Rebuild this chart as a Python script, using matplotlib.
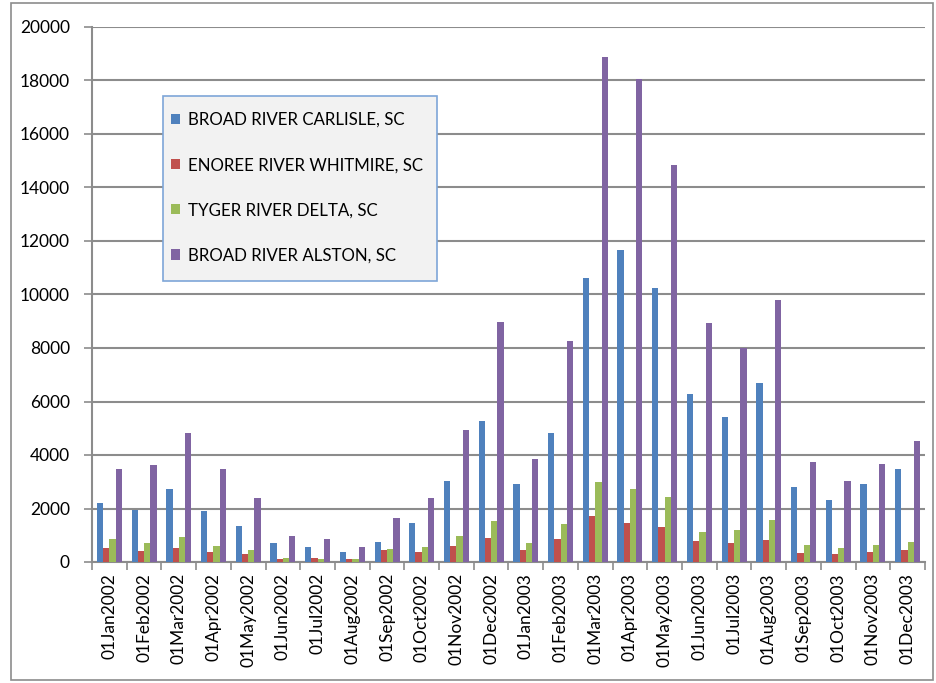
import matplotlib.pyplot as plt
import numpy as np
from matplotlib.patches import Rectangle

# Monthly values
months = ["01Jan2002", "01Feb2002", "01Mar2002", "01Apr2002", "01May2002", "01Jun2002",
          "01Jul2002", "01Aug2002", "01Sep2002", "01Oct2002", "01Nov2002", "01Dec2002",
          "01Jan2003", "01Feb2003", "01Mar2003", "01Apr2003", "01May2003", "01Jun2003",
          "01Jul2003", "01Aug2003", "01Sep2003", "01Oct2003", "01Nov2003", "01Dec2003"]

carlisle = [2200, 1940, 2740, 1900, 1360, 710, 550, 390, 740, 1445, 3040, 5260,
            2900, 4810, 10600, 11660, 10230, 6290, 5410, 6690, 2790, 2320, 2900, 3465]
whitmire = [510, 400, 510, 360, 300, 110, 140, 110, 450, 360, 610, 910,
            450, 850, 1710, 1460, 1310, 770, 710, 820, 340, 310, 370, 440]
tyger = [860, 700, 935, 600, 440, 150, 110, 100, 490, 560, 985, 1530,
         700, 1430, 2980, 2730, 2420, 1135, 1195, 1560, 620, 520, 640, 750]
alston = [3480, 3640, 4820, 3480, 2380, 985, 860, 560, 1645, 2380, 4935, 8970,
          3840, 8260, 18890, 18060, 14840, 8920, 8010, 9790, 3725, 3015, 3650, 4525]

series = [("BROAD RIVER CARLISLE, SC", carlisle, "#4f81bd"),
          ("ENOREE RIVER WHITMIRE, SC", whitmire, "#c0504d"),
          ("TYGER RIVER DELTA, SC", tyger, "#9bbb59"),
          ("BROAD RIVER ALSTON, SC", alston, "#8064a2")]

plt.rcParams['font.family'] = ['Lato', 'DejaVu Sans']
W, H = 936, 683

fig = plt.figure(figsize=(9.36, 6.83), dpi=100)
ax = fig.add_axes([92 / W, 1 - 562 / H, 833 / W, 535 / H])

x = np.arange(len(months))
w = 0.18
for i, (name, vals, col) in enumerate(series):
    ax.bar(x + (i - 1.5) * w, vals, width=w, color=col, label=name, zorder=3)

ax.set_xlim(-0.5, len(months) - 0.5)
ax.set_ylim(0, 20000)
ax.set_yticks(np.arange(0, 20001, 2000))
ax.yaxis.grid(True, color="#8c8c8c", linewidth=1.5, zorder=0)

ax.set_xticks(x)
ax.set_xticklabels(months, rotation=90, fontsize=12.5)
ax.set_xticks(np.arange(-0.5, len(months)), minor=True)
ax.tick_params(axis="x", which="major", length=0, pad=8)
ax.tick_params(axis="x", which="minor", length=6, color="#8c8c8c", width=1.2)
ax.tick_params(axis="y", labelsize=12.5, length=6, color="#8c8c8c", width=1.2, pad=10)

for s in ["top", "right"]:
    ax.spines[s].set_visible(False)
for s in ["left", "bottom"]:
    ax.spines[s].set_color("#8c8c8c")
    ax.spines[s].set_linewidth(1.5)

# legend box drawn by hand so it can sit exactly where the reference has it
ax.add_patch(Rectangle((163 / W, 1 - 281 / H), 274 / W, 185 / H,
                       transform=fig.transFigure, facecolor="#f2f2f2",
                       edgecolor="#7ea6d8", linewidth=1.2, zorder=4, clip_on=False))
leg = ax.legend(loc="upper left", bbox_to_anchor=(171 / W, 1 - 112 / H),
                bbox_transform=fig.transFigure, fontsize=12.2, frameon=False,
                handlelength=0.55, handleheight=0.55, labelspacing=1.72,
                borderpad=0, handletextpad=0.45, borderaxespad=0)
leg.set_zorder(5)

fig.patches.append(Rectangle((11 / W, 3 / H), 922 / W, 677 / H,
                             transform=fig.transFigure, fill=False,
                             edgecolor="#8c8c8c", linewidth=1.2))

fig.savefig("out.png", dpi=100)
